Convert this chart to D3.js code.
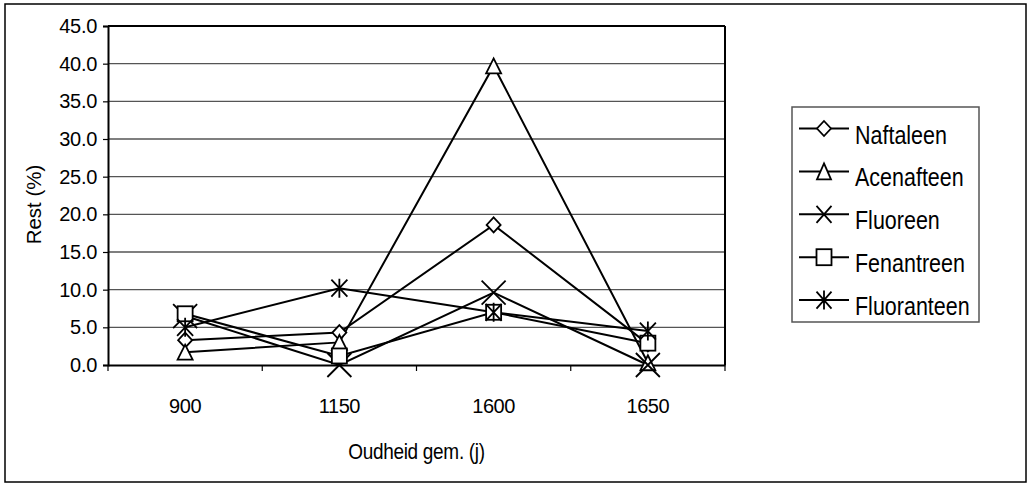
<!DOCTYPE html>
<html>
<head>
<meta charset="utf-8">
<script src="https://cdn.jsdelivr.net/npm/d3@7"></script>
<style>
body { margin: 0; background: #fff; }
text { font-family: "Liberation Sans", Arial, sans-serif; fill: #000; }
</style>
</head>
<body>
<script>
// data
var categories = ['900', '1150', '1600', '1650'];
var naftaleen = [3.3, 4.3, 18.6, 2.8];
var acenafteen = [1.7, 3.0, 39.7, 0.3];
var fluoreen = [6.5, 0.0, 9.6, 0.0];
var fenantreen = [6.8, 1.2, 7.0, 2.9];
var fluoranteen = [5.0, 10.2, 7.0, 4.5];
var yTicks = [0, 5, 10, 15, 20, 25, 30, 35, 40, 45];

var series = [
  {name: 'Naftaleen', values: naftaleen, marker: 'diamond'},
  {name: 'Acenafteen', values: acenafteen, marker: 'triangle'},
  {name: 'Fluoreen', values: fluoreen, marker: 'x'},
  {name: 'Fenantreen', values: fenantreen, marker: 'square'},
  {name: 'Fluoranteen', values: fluoranteen, marker: 'star'}
];

var svg = d3.select('body').append('svg')
  .attr('width', 1027)
  .attr('height', 488);

// outer frame
svg.append('rect')
  .attr('x', 5).attr('y', 4)
  .attr('width', 1021).attr('height', 478)
  .attr('fill', 'none')
  .attr('stroke', '#000')
  .attr('stroke-width', 1.5);

var pLeft = 108, pRight = 725, pTop = 26, pBottom = 365;

var x = d3.scaleBand().domain(categories).range([pLeft, pRight]);
var y = d3.scaleLinear().domain([0, 45]).range([pBottom, pTop]);

// grid
svg.append('g').selectAll('line')
  .data(yTicks.slice(1))
  .join('line')
  .attr('x1', pLeft).attr('x2', pRight)
  .attr('y1', function(d){ return y(d); })
  .attr('y2', function(d){ return y(d); })
  .attr('stroke', '#555')
  .attr('stroke-width', 1.4);

// plot frame right + top
svg.append('line').attr('x1', pRight).attr('x2', pRight).attr('y1', pTop).attr('y2', pBottom)
  .attr('stroke', '#000').attr('stroke-width', 2);
svg.append('line').attr('x1', pLeft).attr('x2', pRight).attr('y1', pTop).attr('y2', pTop)
  .attr('stroke', '#000').attr('stroke-width', 2);

// y axis
var yAxis = svg.append('g')
  .attr('transform', 'translate(' + pLeft + ',0)')
  .call(d3.axisLeft(y).tickValues(yTicks).tickFormat(d3.format('.1f')).tickSize(5).tickPadding(6));
yAxis.select('.domain').attr('stroke-width', 2);
yAxis.selectAll('.tick line').attr('stroke-width', 1.2);
yAxis.selectAll('text')
  .attr('font-size', 20)
  .attr('letter-spacing', -0.3)
  .attr('font-family', '"Liberation Sans", Arial, sans-serif');

// x axis
var xAxis = svg.append('g')
  .attr('transform', 'translate(0,' + pBottom + ')')
  .call(d3.axisBottom(x).tickSize(0).tickPadding(34));
xAxis.select('.domain').attr('stroke-width', 2);
xAxis.selectAll('text')
  .attr('font-size', 20)
  .attr('letter-spacing', -0.4)
  .attr('font-family', '"Liberation Sans", Arial, sans-serif');
// ticks between categories
var bounds = categories.map(function(c){ return x(c); }).concat([pRight]);
svg.append('g').selectAll('line')
  .data(bounds)
  .join('line')
  .attr('x1', function(d){ return d; }).attr('x2', function(d){ return d; })
  .attr('y1', pBottom).attr('y2', pBottom + 6)
  .attr('stroke', '#000').attr('stroke-width', 1.2);

// axis titles
svg.append('text')
  .attr('transform', 'translate(' + ((pLeft + pRight) / 2) + ',459) scale(1,1.12)')
  .attr('text-anchor', 'middle')
  .attr('font-size', 19)
  .attr('letter-spacing', -0.3)
  .text('Oudheid gem. (j)');

svg.append('text')
  .attr('transform', 'translate(41,' + ((pTop + pBottom) / 2 + 9) + ') rotate(-90)')
  .attr('text-anchor', 'middle')
  .attr('font-size', 20.5)
  .text('Rest (%)');

// markers
function drawMarker(g, type, cx, cy, w, h) {
  var sel;
  if (type == 'diamond') {
    sel = g.append('path')
      .attr('d', 'M' + cx + ',' + (cy - h) + 'L' + (cx + w) + ',' + cy + 'L' + cx + ',' + (cy + h) + 'L' + (cx - w) + ',' + cy + 'Z')
      .attr('fill', '#fff');
  } else if (type == 'triangle') {
    sel = g.append('path')
      .attr('d', 'M' + cx + ',' + (cy - h) + 'L' + (cx + w) + ',' + (cy + h) + 'L' + (cx - w) + ',' + (cy + h) + 'Z')
      .attr('fill', '#fff');
  } else if (type == 'square') {
    sel = g.append('rect')
      .attr('x', cx - w).attr('y', cy - h)
      .attr('width', 2 * w).attr('height', 2 * h)
      .attr('fill', '#fff');
  } else if (type == 'x') {
    sel = g.append('path')
      .attr('d', 'M' + (cx - w) + ',' + (cy - h) + 'L' + (cx + w) + ',' + (cy + h) +
                 'M' + (cx + w) + ',' + (cy - h) + 'L' + (cx - w) + ',' + (cy + h))
      .attr('fill', 'none');
  } else if (type == 'star') {
    sel = g.append('path')
      .attr('d', 'M' + (cx - w) + ',' + (cy - h) + 'L' + (cx + w) + ',' + (cy + h) +
                 'M' + (cx + w) + ',' + (cy - h) + 'L' + (cx - w) + ',' + (cy + h) +
                 'M' + cx + ',' + (cy - h - 1) + 'L' + cx + ',' + (cy + h + 1))
      .attr('fill', 'none');
  }
  sel.attr('stroke', '#000').attr('stroke-width', 1.8);
}

var plotSize = {diamond: [7, 7.5], triangle: [7.5, 7.5], square: [7.5, 7.5], x: [12, 12], star: [8, 8.5]};
var legendSize = {diamond: [7, 7.5], triangle: [7, 8], square: [7.5, 8], x: [7.5, 8.5], star: [7.5, 8.5]};

var line = d3.line()
  .x(function(d, i){ return x(categories[i]) + x.bandwidth() / 2; })
  .y(function(d){ return y(d); });

var plot = svg.append('g');
series.forEach(function(s){
  plot.append('path')
    .attr('d', line(s.values))
    .attr('fill', 'none')
    .attr('stroke', '#000')
    .attr('stroke-width', 2);
});
series.forEach(function(s){
  s.values.forEach(function(v, i){
    var sz = plotSize[s.marker];
    drawMarker(plot, s.marker, x(categories[i]) + x.bandwidth() / 2, y(v), sz[0], sz[1]);
  });
});

// legend
var lg = svg.append('g');
lg.append('rect')
  .attr('x', 792).attr('y', 107)
  .attr('width', 187).attr('height', 215)
  .attr('fill', '#fff')
  .attr('stroke', '#555')
  .attr('stroke-width', 1.5);
series.forEach(function(s, i){
  var ly = 128.5 + i * 42.9;
  lg.append('line')
    .attr('x1', 799).attr('x2', 849)
    .attr('y1', ly).attr('y2', ly)
    .attr('stroke', '#000').attr('stroke-width', 2);
  var sz = legendSize[s.marker];
  drawMarker(lg, s.marker, 824, ly, sz[0], sz[1]);
  lg.append('text')
    .attr('transform', 'translate(855,' + (ly + 15) + ') scale(0.86,1)')
    .attr('font-size', 25)
    .text(s.name);
});
</script>
</body>
</html>
